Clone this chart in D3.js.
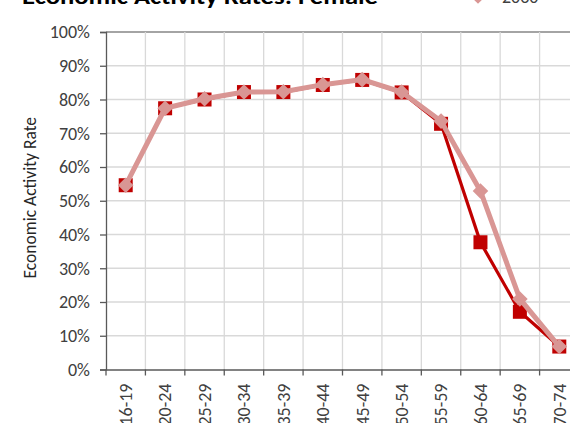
<!DOCTYPE html>
<html>
<head>
<meta charset="utf-8">
<script src="https://cdn.jsdelivr.net/npm/d3@7"></script>
<style>
  body { margin: 0; background: #fff; }
  svg { display: block; }
  svg text { font-family: Carlito, Calibri, "Liberation Sans", Arial, sans-serif; }
</style>
</head>
<body>
<svg id="chart"></svg>
<script>
const ageGroups = ["16-19", "20-24", "25-29", "30-34", "35-39", "40-44", "45-49", "50-54", "55-59", "60-64", "65-69", "70-74"];
const rates2014 = [54.6, 77.4, 80.0, 82.2, 82.2, 84.3, 85.8, 82.1, 72.8, 37.7, 17.1, 6.8];
const rates2030 = [54.6, 77.4, 80.2, 82.2, 82.3, 84.4, 85.9, 82.2, 73.6, 52.9, 20.9, 6.8];
const yTicks = [0, 10, 20, 30, 40, 50, 60, 70, 80, 90, 100];

const width = 570, height = 423;
const margin = { top: 32, left: 106, bottom: 53.5 };
const plotRight = 579; // the plot runs slightly past the window edge
const innerHeight = height - margin.top - margin.bottom;

const svg = d3.select("#chart").attr("width", width).attr("height", height);

const x = d3.scaleBand().domain(ageGroups).range([margin.left, plotRight]);
const y = d3.scaleLinear().domain([0, 100]).range([margin.top + innerHeight, margin.top]);

// gridlines
svg.append("g").selectAll("line").data(yTicks.slice(1)).join("line")
  .attr("x1", margin.left).attr("x2", plotRight)
  .attr("y1", d => y(d)).attr("y2", d => y(d))
  .attr("stroke", d => d === 100 ? "#868686" : "#d9d9d9").attr("stroke-width", 1.3);
svg.append("g").selectAll("line").data(ageGroups.slice(1)).join("line")
  .attr("x1", d => x(d)).attr("x2", d => x(d))
  .attr("y1", margin.top).attr("y2", y(0))
  .attr("stroke", "#d9d9d9").attr("stroke-width", 1.3);

// y axis
const yAxis = svg.append("g").attr("transform", `translate(${margin.left},0)`)
  .call(d3.axisLeft(y).tickValues(yTicks).tickFormat(d => d + "%").tickSize(6).tickPadding(10))
  .attr("font-family", null);
yAxis.select(".domain").attr("stroke", "#595959").attr("stroke-width", 1.3);
yAxis.selectAll(".tick line").attr("stroke", "#595959").attr("stroke-width", 1.3);
yAxis.selectAll("text").attr("font-size", 18).attr("fill", "#404040");

// x axis
const xAxis = svg.append("g").attr("transform", `translate(0,${y(0)})`)
  .call(d3.axisBottom(x).tickSizeOuter(0).tickSize(0))
  .attr("font-family", null);
xAxis.select(".domain").attr("stroke", "#595959").attr("stroke-width", 1.3);
xAxis.selectAll(".tick text")
  .attr("font-size", 18).attr("fill", "#404040")
  .attr("transform", "rotate(-90)").attr("text-anchor", "end")
  .attr("x", -14).attr("y", 0).attr("dy", "0.35em");
svg.append("g").selectAll("line").data(ageGroups).join("line")
  .attr("x1", d => x(d)).attr("x2", d => x(d))
  .attr("y1", y(0)).attr("y2", y(0) + 6)
  .attr("stroke", "#595959").attr("stroke-width", 1.3);

// axis title
svg.append("text")
  .attr("transform", `translate(36,${y(50) - 3}) rotate(-90)`)
  .attr("text-anchor", "middle").attr("font-size", 17.5).attr("fill", "#262626")
  .text("Economic Activity Rate");

// series
const line = d3.line().x((d, i) => x(ageGroups[i]) + x.bandwidth() / 2).y(d => y(d));

svg.append("path").datum(rates2014).attr("d", line)
  .attr("fill", "none").attr("stroke", "#c00000").attr("stroke-width", 3.2);
svg.append("g").selectAll("rect").data(rates2014).join("rect")
  .attr("x", (d, i) => x(ageGroups[i]) + x.bandwidth() / 2 - 7)
  .attr("y", d => y(d) - 7)
  .attr("width", 14).attr("height", 14).attr("fill", "#c00000");

const diamond = d3.symbol().type(d3.symbolDiamond2).size(155);
svg.append("path").datum(rates2030).attr("d", line)
  .attr("fill", "none").attr("stroke", "#d99694").attr("stroke-width", 5);
svg.append("g").selectAll("path").data(rates2030).join("path")
  .attr("transform", (d, i) => `translate(${x(ageGroups[i]) + x.bandwidth() / 2},${y(d)})`)
  .attr("d", diamond).attr("fill", "#d99694");

// title (cut off by top edge)
svg.append("text").attr("x", 22).attr("y", 4)
  .attr("font-size", 22).attr("font-weight", "bold").attr("fill", "#000")
  .attr("textLength", 356).attr("lengthAdjust", "spacingAndGlyphs")
  .text("Economic Activity Rates: Female");

// legend entry for 2030
svg.append("line").attr("x1", 458).attr("x2", 498).attr("y1", -4).attr("y2", -4)
  .attr("stroke", "#d99694").attr("stroke-width", 5);
svg.append("path").attr("transform", "translate(478,-4)").attr("d", diamond).attr("fill", "#d99694");
svg.append("text").attr("x", 502).attr("y", 3).attr("font-size", 18).attr("fill", "#404040").text("2030");
</script>
</body>
</html>
